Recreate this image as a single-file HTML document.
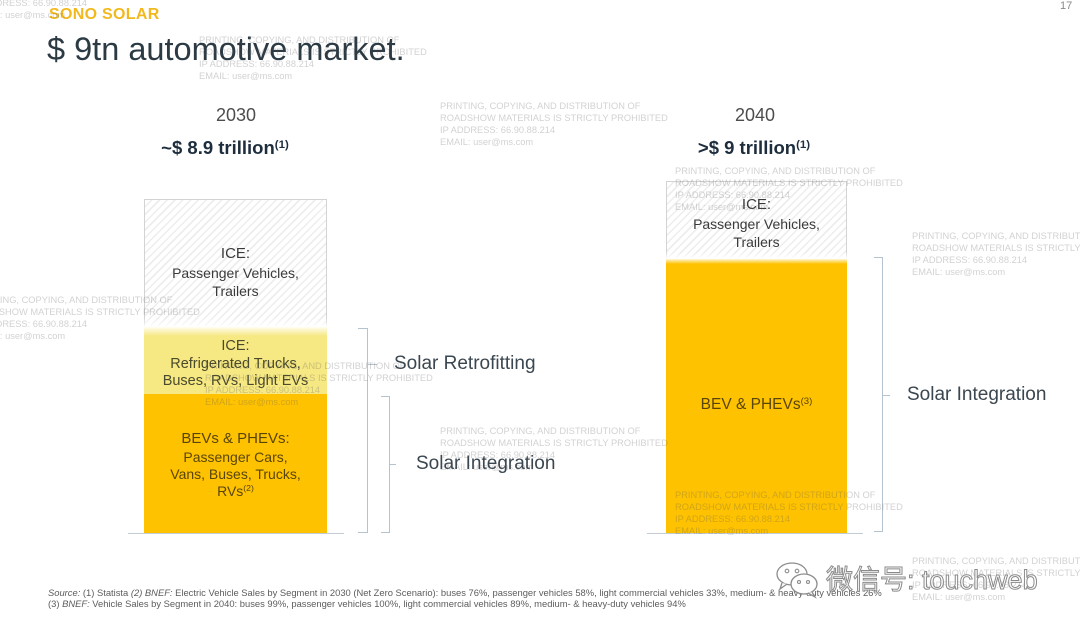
<!DOCTYPE html>
<html><head><meta charset="utf-8">
<style>
html,body{margin:0;padding:0;}
body{width:1080px;height:628px;position:relative;overflow:hidden;background:#fff;font-family:"Liberation Sans","Noto Sans CJK SC",sans-serif;}
.a{position:absolute;}
.wm{position:absolute;font-size:9.3px;line-height:12px;color:rgba(90,90,90,0.28);white-space:nowrap;letter-spacing:0;}
.bt{position:absolute;text-align:center;white-space:nowrap;}
.ln{position:absolute;background:#b5c2cf;}
.lbl{position:absolute;font-size:19px;line-height:20px;color:#3b4750;white-space:nowrap;}
sup{font-size:0.62em;vertical-align:0;position:relative;top:-0.55em;}
</style></head><body>

<!-- header -->
<div class="a" style="left:49px;top:5px;font-size:16px;line-height:20px;font-weight:bold;color:#f2b91e;letter-spacing:0.3px;">SONO SOLAR</div>
<div class="a" style="left:47px;top:31px;font-size:32.5px;line-height:36px;color:#2c3a44;white-space:nowrap;">$ 9tn automotive market.</div>
<div class="a" style="left:1060px;top:0px;font-size:11px;line-height:13px;color:#8a8a8a;">17</div>

<!-- 2030 headings -->
<div class="bt" style="left:136px;width:200px;top:104px;font-size:18px;line-height:22px;color:#4d4d4d;">2030</div>
<div class="bt" style="left:125px;width:200px;top:137px;font-size:18.5px;line-height:22px;font-weight:bold;color:#1d2d3d;">~$ 8.9 trillion<sup>(1)</sup></div>
<!-- 2040 headings -->
<div class="bt" style="left:655px;width:200px;top:104px;font-size:18px;line-height:22px;color:#4d4d4d;">2040</div>
<div class="bt" style="left:654px;width:200px;top:137px;font-size:18.5px;line-height:22px;font-weight:bold;color:#1d2d3d;">&gt;$ 9 trillion<sup>(1)</sup></div>

<!-- 2030 bar -->
<div class="a" style="left:144px;top:199px;width:181px;height:126px;border:1px solid #d3d3d3;border-bottom:none;background:repeating-linear-gradient(135deg,#fff 0 4px,#ededed 4px 5.5px);"></div>
<div class="a" style="left:144px;top:318px;width:184px;height:10px;background:linear-gradient(to bottom,rgba(255,255,255,0),#fff);"></div>
<div class="a" style="left:144px;top:327px;width:183px;height:67px;background:linear-gradient(to bottom,#fffdf0 0,#f6e883 9px,#f6e883 100%);"></div>
<div class="a" style="left:144px;top:394px;width:183px;height:139px;background:#fec200;"></div>

<!-- 2030 bar text -->
<div class="bt" style="left:144px;width:183px;top:245px;font-size:15px;line-height:18px;color:#3a3a3a;">ICE:</div>
<div class="bt" style="left:144px;width:183px;top:264px;font-size:14px;line-height:18px;color:#3a3a3a;">Passenger Vehicles,<br>Trailers</div>
<div class="bt" style="left:144px;width:183px;top:338px;font-size:14.5px;line-height:17.5px;color:#4a4a2c;">ICE:<br>Refrigerated Trucks,<br>Buses, RVs, Light EVs</div>
<div class="bt" style="left:144px;width:183px;top:429px;font-size:15px;line-height:20px;color:#5a4508;">BEVs &amp; PHEVs:</div>
<div class="bt" style="left:144px;width:183px;top:449px;font-size:14px;line-height:17px;color:#5a4508;">Passenger Cars,<br>Vans, Buses, Trucks,<br>RVs<sup>(2)</sup></div>

<!-- 2030 baseline -->
<div class="ln" style="left:128px;top:533px;width:216px;height:1px;background:#c3ccd4;"></div>

<!-- bracket 1 (retrofitting) -->
<div class="ln" style="left:367px;top:328px;width:1px;height:205px;"></div>
<div class="ln" style="left:358px;top:328px;width:10px;height:1px;"></div>
<div class="ln" style="left:358px;top:532px;width:10px;height:1px;"></div>
<div class="ln" style="left:367px;top:364px;width:10px;height:1px;"></div>
<div class="lbl" style="left:394px;top:354px;">Solar Retrofitting</div>

<!-- bracket 2 (integration 2030) -->
<div class="ln" style="left:389px;top:396px;width:1px;height:137px;"></div>
<div class="ln" style="left:381px;top:396px;width:9px;height:1px;"></div>
<div class="ln" style="left:381px;top:532px;width:9px;height:1px;"></div>
<div class="ln" style="left:389px;top:464px;width:7px;height:1px;"></div>
<div class="lbl" style="left:416px;top:454px;">Solar Integration</div>

<!-- 2040 bar -->
<div class="a" style="left:666px;top:181px;width:179px;height:77px;border:1px solid #d3d3d3;border-bottom:none;background:repeating-linear-gradient(135deg,#fff 0 4px,#ededed 4px 5.5px);"></div>
<div class="a" style="left:666px;top:252px;width:182px;height:7px;background:linear-gradient(to bottom,rgba(255,255,255,0),#fff);"></div>
<div class="a" style="left:666px;top:259px;width:181px;height:274px;background:linear-gradient(to bottom,#fff6d8 0,#fec200 5px,#fec200 100%);"></div>
<div class="bt" style="left:666px;width:181px;top:196px;font-size:15px;line-height:18px;color:#3a3a3a;">ICE:</div>
<div class="bt" style="left:666px;width:181px;top:215px;font-size:14px;line-height:18px;color:#3a3a3a;">Passenger Vehicles,<br>Trailers</div>
<div class="bt" style="left:666px;width:181px;top:395px;font-size:15.5px;line-height:20px;color:#5a4508;">BEV &amp; PHEVs<sup>(3)</sup></div>
<div class="ln" style="left:647px;top:533px;width:216px;height:1px;background:#c3ccd4;"></div>

<!-- bracket 3 -->
<div class="ln" style="left:882px;top:257px;width:1px;height:275px;"></div>
<div class="ln" style="left:874px;top:257px;width:9px;height:1px;"></div>
<div class="ln" style="left:874px;top:531px;width:9px;height:1px;"></div>
<div class="ln" style="left:882px;top:395px;width:8px;height:1px;"></div>
<div class="lbl" style="left:907px;top:385px;">Solar Integration</div>

<!-- footnotes -->
<div class="a" style="left:48px;top:587px;font-size:9.4px;line-height:11px;color:#5c5c5c;white-space:nowrap;"><i>Source:</i> (1) Statista <i>(2) BNEF:</i> Electric Vehicle Sales by Segment in 2030 (Net Zero Scenario): buses 76%, passenger vehicles 58%, light commercial vehicles 33%, medium- &amp; heavy-duty vehicles 26%<br>(3) <i>BNEF:</i> Vehicle Sales by Segment in 2040: buses 99%, passenger vehicles 100%, light commercial vehicles 89%, medium- &amp; heavy-duty vehicles 94%</div>

<!-- watermark blocks -->
<div class="wm" style="left:-28px;top:-27px;">PRINTING, COPYING, AND DISTRIBUTION OF<br>ROADSHOW MATERIALS IS STRICTLY PROHIBITED<br>IP ADDRESS: 66.90.88.214<br>EMAIL: user@ms.com</div>
<div class="wm" style="left:199px;top:34px;">PRINTING, COPYING, AND DISTRIBUTION OF<br>ROADSHOW MATERIALS IS STRICTLY PROHIBITED<br>IP ADDRESS: 66.90.88.214<br>EMAIL: user@ms.com</div>
<div class="wm" style="left:440px;top:100px;">PRINTING, COPYING, AND DISTRIBUTION OF<br>ROADSHOW MATERIALS IS STRICTLY PROHIBITED<br>IP ADDRESS: 66.90.88.214<br>EMAIL: user@ms.com</div>
<div class="wm" style="left:675px;top:165px;">PRINTING, COPYING, AND DISTRIBUTION OF<br>ROADSHOW MATERIALS IS STRICTLY PROHIBITED<br>IP ADDRESS: 66.90.88.214<br>EMAIL: user@ms.com</div>
<div class="wm" style="left:912px;top:230px;">PRINTING, COPYING, AND DISTRIBUTION OF<br>ROADSHOW MATERIALS IS STRICTLY PROHIBITED<br>IP ADDRESS: 66.90.88.214<br>EMAIL: user@ms.com</div>
<div class="wm" style="left:-28px;top:294px;">PRINTING, COPYING, AND DISTRIBUTION OF<br>ROADSHOW MATERIALS IS STRICTLY PROHIBITED<br>IP ADDRESS: 66.90.88.214<br>EMAIL: user@ms.com</div>
<div class="wm" style="left:205px;top:360px;">PRINTING, COPYING, AND DISTRIBUTION OF<br>ROADSHOW MATERIALS IS STRICTLY PROHIBITED<br>IP ADDRESS: 66.90.88.214<br>EMAIL: user@ms.com</div>
<div class="wm" style="left:440px;top:425px;">PRINTING, COPYING, AND DISTRIBUTION OF<br>ROADSHOW MATERIALS IS STRICTLY PROHIBITED<br>IP ADDRESS: 66.90.88.214<br>EMAIL: user@ms.com</div>
<div class="wm" style="left:675px;top:489px;">PRINTING, COPYING, AND DISTRIBUTION OF<br>ROADSHOW MATERIALS IS STRICTLY PROHIBITED<br>IP ADDRESS: 66.90.88.214<br>EMAIL: user@ms.com</div>
<div class="wm" style="left:912px;top:555px;">PRINTING, COPYING, AND DISTRIBUTION OF<br>ROADSHOW MATERIALS IS STRICTLY PROHIBITED<br>IP ADDRESS: 66.90.88.214<br>EMAIL: user@ms.com</div>

<!-- WeChat watermark -->
<svg class="a" style="left:772px;top:560px;" width="52" height="40" viewBox="0 0 52 40">
  <ellipse cx="20" cy="14" rx="15" ry="11" fill="#fff" stroke="#8c8c8c" stroke-width="1.3"/>
  <path d="M10 23 L8 29 L15 24" fill="#fff" stroke="#8c8c8c" stroke-width="1.3"/>
  <circle cx="15" cy="11" r="1.8" fill="none" stroke="#8c8c8c" stroke-width="1.1"/>
  <circle cx="25" cy="11" r="1.8" fill="none" stroke="#8c8c8c" stroke-width="1.1"/>
  <ellipse cx="32" cy="24" rx="13" ry="10" fill="#fff" stroke="#8c8c8c" stroke-width="1.3"/>
  <path d="M40 32 L43 37 L36 33" fill="#fff" stroke="#8c8c8c" stroke-width="1.3"/>
  <circle cx="27" cy="22" r="1.5" fill="none" stroke="#8c8c8c" stroke-width="1.1"/>
  <circle cx="36" cy="22" r="1.5" fill="none" stroke="#8c8c8c" stroke-width="1.1"/>
</svg>
<div class="a" style="left:826px;top:562px;font-family:'Noto Sans CJK SC','WenQuanYi Zen Hei',sans-serif;font-size:27px;line-height:32px;color:#fff;-webkit-text-stroke:1px #8a8a8a;white-space:nowrap;">微信号<span style="font-family:'Liberation Sans',sans-serif;">: touchweb</span></div>

</body></html>
